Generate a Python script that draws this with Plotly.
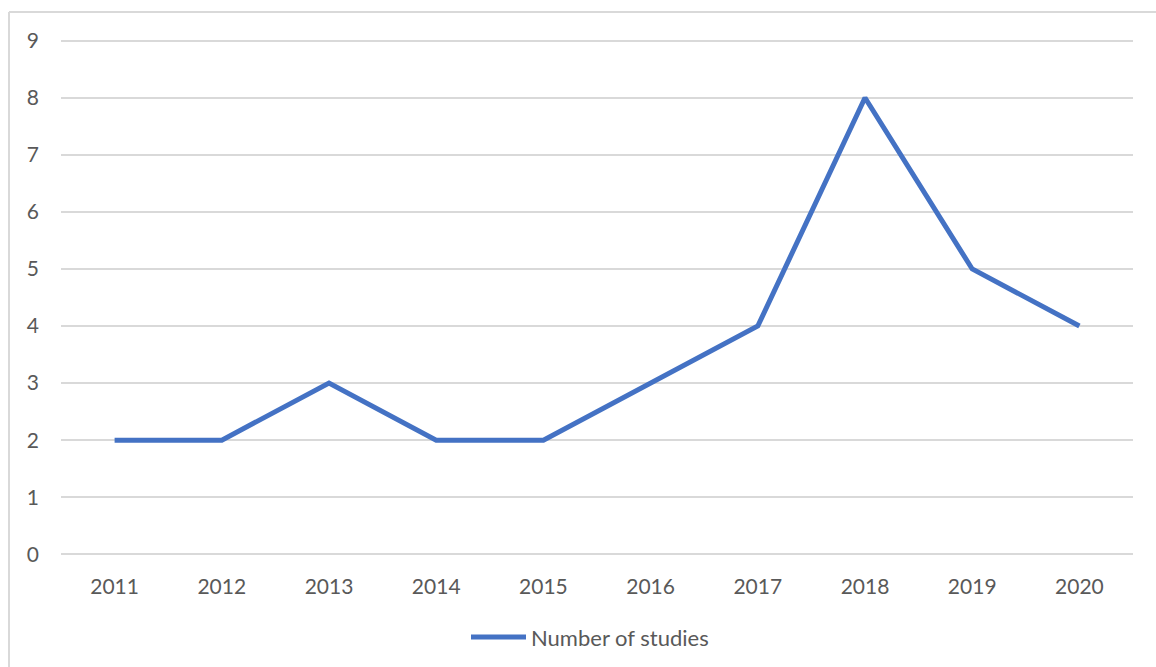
import plotly.graph_objects as go

years = ["2011", "2012", "2013", "2014", "2015", "2016", "2017", "2018", "2019", "2020"]
studies = [2, 2, 3, 2, 2, 3, 4, 8, 5, 4]
series_name = "Number of studies"

W, H = 1156, 667
ml, mr, mt, mb = 61, 23, 39, 111
pw = W - ml - mr
ph = H - mt - mb

def px_x(px):
    return (px - ml) / pw

def px_y(py):
    return (H - mb - py) / ph

line_color = "#4472C4"
txt_color = "#595959"
grid_color = "#d9d9d9"
font_family = "Lato, 'Open Sans', sans-serif"

fig = go.Figure()
fig.add_trace(go.Scatter(
    x=years, y=studies, mode="lines", name=series_name,
    line=dict(color=line_color, width=5),
    showlegend=False,
))

fig.update_layout(
    width=W, height=H,
    margin=dict(l=ml, r=mr, t=mt, b=mb, autoexpand=False),
    paper_bgcolor="white", plot_bgcolor="white",
    font=dict(family=font_family, size=21, color=txt_color),
    showlegend=False,
    xaxis=dict(type="category", range=[-0.5, 9.5], showgrid=False, zeroline=False,
               showline=False, ticks="", ticklabelstandoff=16,
               tickfont=dict(size=21, color=txt_color)),
    yaxis=dict(range=[-0.03, 9.03], dtick=1, tick0=0, showgrid=True, gridcolor=grid_color,
               gridwidth=2, zeroline=True, zerolinecolor=grid_color, zerolinewidth=2,
               showline=False, ticks="", ticklabelstandoff=21,
               tickfont=dict(size=21, color=txt_color)),
    shapes=[
        dict(type="line", xref="paper", yref="paper",
             x0=px_x(9), x1=px_x(9), y0=px_y(12), y1=px_y(700),
             line=dict(color=grid_color, width=2)),
        dict(type="line", xref="paper", yref="paper",
             x0=px_x(9), x1=px_x(1200), y0=px_y(12), y1=px_y(12),
             line=dict(color=grid_color, width=2)),
        # legend sample line
        dict(type="line", xref="paper", yref="paper",
             x0=px_x(471), x1=px_x(526), y0=px_y(637), y1=px_y(637),
             line=dict(color=line_color, width=5)),
    ],
    annotations=[
        dict(text=series_name, xref="paper", yref="paper",
             x=px_x(529), y=px_y(637), xanchor="left", yanchor="middle",
             showarrow=False, font=dict(size=22, color=txt_color)),
    ],
)
fig.write_html("out.html")
